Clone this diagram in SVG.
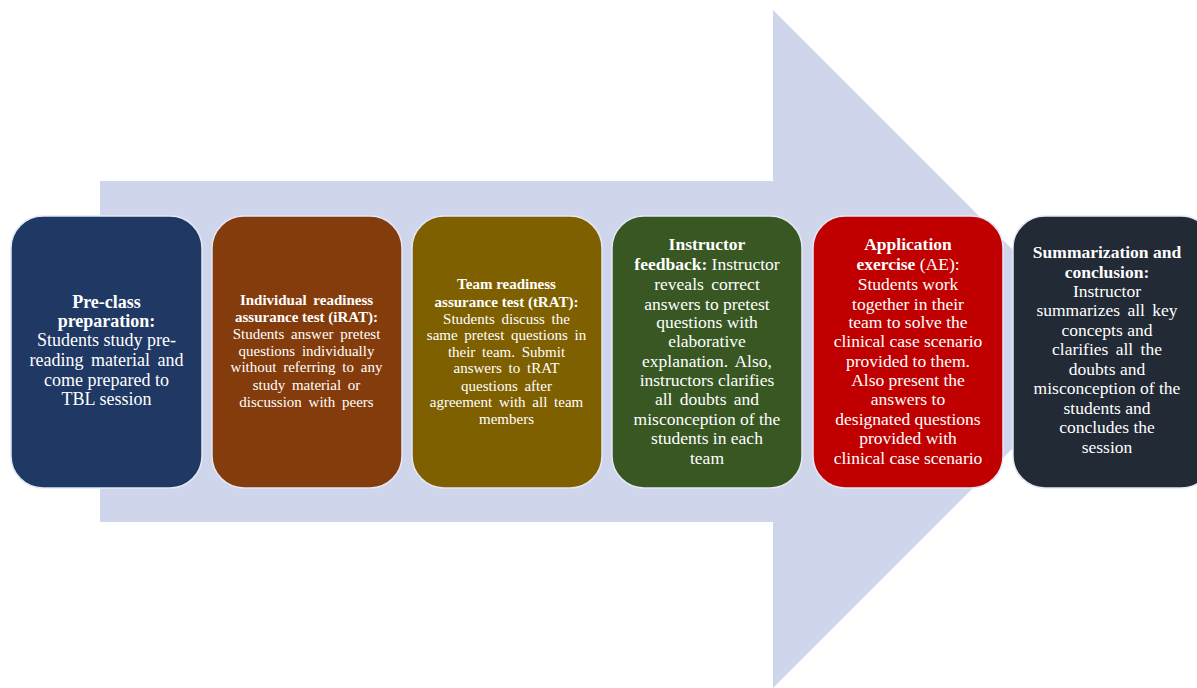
<svg xmlns="http://www.w3.org/2000/svg" width="1197" height="688" viewBox="0 0 1197 688">
<style>
.box{stroke:#E4E8F4;stroke-width:1.5}
text{font-family:"Liberation Serif","Times New Roman",serif;fill:#FFFFFF;text-anchor:middle}
.xl{font-size:18px}
.l{font-size:17.5px}
.s{font-size:15px}
.b{font-weight:bold}
.w{word-spacing:3px}
</style>
<rect width="1197" height="688" fill="#FFFFFF"/>
<g id="arrow">
<polygon points="100,181 773,181 773,10 1112,349 773,688 773,522 100,522" fill="#CFD5EA"/>
</g>
<g id="connectors"></g>
<g id="n1">
<rect class="box" x="11" y="216" width="191" height="272" rx="32" fill="#1F3864"/>
<text class="xl" x="106.5"><tspan class="b" x="106.5" y="308">Pre-class</tspan><tspan class="b" x="106.5" y="327">preparation:</tspan><tspan x="106.5" y="346">Students study pre-</tspan><tspan class="w" x="106.5" y="366">reading material and</tspan><tspan x="106.5" y="386">come prepared to</tspan><tspan x="106.5" y="405">TBL session</tspan></text>
</g>
<g id="n2">
<rect class="box" x="212" y="216" width="190" height="272" rx="32" fill="#843C0C"/>
<text class="s" x="306.5"><tspan class="b w" x="306.5" y="305">Individual readiness</tspan><tspan class="b" x="306.5" y="322">assurance test (iRAT):</tspan><tspan class="w" x="306.5" y="339">Students answer pretest</tspan><tspan class="w" x="306.5" y="356">questions individually</tspan><tspan class="w" x="306.5" y="372">without referring to any</tspan><tspan class="w" x="306.5" y="390">study material or</tspan><tspan class="w" x="306.5" y="407">discussion with peers</tspan></text>
</g>
<g id="n3">
<rect class="box" x="412" y="216" width="190" height="272" rx="32" fill="#7F6000"/>
<text class="s" x="506.5"><tspan class="b" x="506.5" y="289">Team readiness</tspan><tspan class="b" x="506.5" y="307">assurance test (tRAT):</tspan><tspan class="w" x="506.5" y="324">Students discuss the</tspan><tspan class="w" x="506.5" y="340">same pretest questions in</tspan><tspan class="w" x="506.5" y="357">their team. Submit</tspan><tspan class="w" x="506.5" y="373">answers to tRAT</tspan><tspan class="w" x="506.5" y="391">questions after</tspan><tspan class="w" x="506.5" y="407">agreement with all team</tspan><tspan x="506.5" y="424">members</tspan></text>
</g>
<g id="n4">
<rect class="box" x="612" y="216" width="190" height="272" rx="32" fill="#385723"/>
<text class="l" x="707"><tspan class="b" x="707" y="250">Instructor</tspan><tspan x="707" y="270"><tspan class="b">feedback:</tspan> Instructor</tspan><tspan class="w" x="707" y="290">reveals correct</tspan><tspan x="707" y="310">answers to pretest</tspan><tspan x="707" y="328">questions with</tspan><tspan x="707" y="347">elaborative</tspan><tspan class="w" x="707" y="367">explanation. Also,</tspan><tspan x="707" y="386">instructors clarifies</tspan><tspan class="w" x="707" y="405">all doubts and</tspan><tspan x="707" y="425">misconception of the</tspan><tspan x="707" y="444">students in each</tspan><tspan x="707" y="464">team</tspan></text>
</g>
<g id="n5">
<rect class="box" x="813" y="216" width="190" height="272" rx="32" fill="#C00000"/>
<text class="l" x="908"><tspan class="b" x="908" y="250">Application</tspan><tspan x="908" y="270"><tspan class="b">exercise</tspan> (AE):</tspan><tspan x="908" y="290">Students work</tspan><tspan x="908" y="310">together in their</tspan><tspan x="908" y="328">team to solve the</tspan><tspan x="908" y="347">clinical case scenario</tspan><tspan x="908" y="367">provided to them.</tspan><tspan x="908" y="386">Also present the</tspan><tspan x="908" y="405">answers to</tspan><tspan x="908" y="425">designated questions</tspan><tspan x="908" y="444">provided with</tspan><tspan x="908" y="464">clinical case scenario</tspan></text>
</g>
<g id="n6">
<rect class="box" x="1013" y="216" width="200" height="272" rx="32" fill="#222A35"/>
<text class="l" x="1107"><tspan class="b" x="1107" y="258">Summarization and</tspan><tspan class="b" x="1107" y="278">conclusion:</tspan><tspan x="1107" y="297">Instructor</tspan><tspan class="w" x="1107" y="316">summarizes all key</tspan><tspan x="1107" y="336">concepts and</tspan><tspan class="w" x="1107" y="355">clarifies all the</tspan><tspan x="1107" y="375">doubts and</tspan><tspan x="1107" y="394">misconception of the</tspan><tspan x="1107" y="414">students and</tspan><tspan x="1107" y="433">concludes the</tspan><tspan x="1107" y="453">session</tspan></text>
</g>
</svg>
